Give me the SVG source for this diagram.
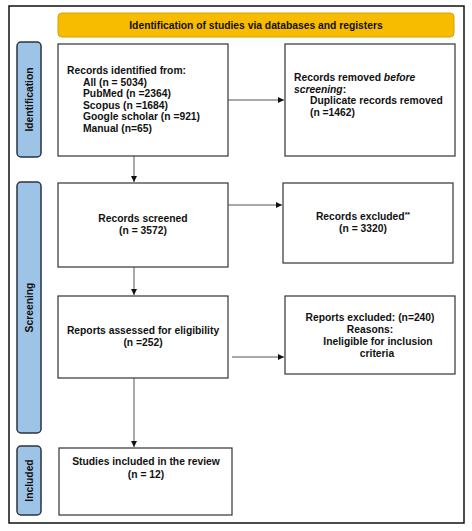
<svg xmlns="http://www.w3.org/2000/svg" width="472" height="531" viewBox="0 0 472 531">
<style>
text{font-family:"Liberation Sans",Arial,sans-serif;font-size:10.3px;font-weight:bold;fill:#111}
.box{fill:#fff;stroke:#333;stroke-width:1.2}
.side{fill:#9DC3E6;stroke:#2b3440;stroke-width:1.5}
.c{text-anchor:middle}
.conn{stroke:#555;stroke-width:1;fill:none}
</style>
<defs>
<marker id="ah" viewBox="0 0 10 10" refX="10" refY="5" markerWidth="6" markerHeight="6" orient="auto" markerUnits="userSpaceOnUse">
<path d="M0,0 L10,5 L0,10 z" fill="#111"/>
</marker>
</defs>
<rect x="0" y="0" width="472" height="531" fill="#fff"/>
<rect x="9" y="6" width="455" height="517" fill="#fff" stroke="#111" stroke-width="1.5"/>
<g id="header">
<rect x="58" y="13" width="396" height="24" rx="4" fill="#F7BB00" stroke="#D9A300" stroke-width="1"/>
<text class="c" x="256" y="29">Identification of studies via databases and registers</text>
</g>
<g id="side-identification">
<rect class="side" x="17" y="42" width="24" height="115" rx="4"/>
<text class="c" transform="translate(32.5,99.5) rotate(-90)">Identification</text>
</g>
<g id="side-screening">
<rect class="side" x="17" y="182" width="24" height="251" rx="4"/>
<text class="c" transform="translate(32.5,307.5) rotate(-90)">Screening</text>
</g>
<g id="side-included">
<rect class="side" x="17" y="446" width="24" height="69" rx="4"/>
<text class="c" transform="translate(32.5,480.5) rotate(-90)">Included</text>
</g>
<g id="identified">
<rect class="box" x="58" y="44" width="170" height="112"/>
<text x="67" y="74">Records identified from:</text>
<text x="83" y="85.5">All (n = 5034)</text>
<text x="83" y="97">PubMed (n =2364)</text>
<text x="83" y="108.5">Scopus (n =1684)</text>
<text x="83" y="120">Google scholar (n =921)</text>
<text x="83" y="131.5">Manual (n=65)</text>
</g>
<g id="removed">
<rect class="box" x="285" y="44" width="170" height="112"/>
<text x="294" y="81">Records removed <tspan font-style="italic">before</tspan></text>
<text x="294" y="92.5"><tspan font-style="italic">screening</tspan>:</text>
<text x="310" y="104">Duplicate records removed</text>
<text x="310" y="115.5">(n =1462)</text>
</g>
<g id="screened">
<rect class="box" x="58" y="183" width="170" height="84"/>
<text class="c" x="143" y="222">Records screened</text>
<text class="c" x="143" y="234">(n = 3572)</text>
</g>
<g id="excluded">
<rect class="box" x="283" y="183" width="170" height="80"/>
<text class="c" x="363" y="220">Records excluded<tspan font-size="7" dy="-3">**</tspan></text>
<text class="c" x="363" y="232">(n = 3320)</text>
</g>
<g id="assessed">
<rect class="box" x="58" y="296" width="170" height="82"/>
<text class="c" x="143" y="334">Reports assessed for eligibility</text>
<text class="c" x="143" y="346">(n =252)</text>
</g>
<g id="reports-excluded">
<rect class="box" x="285" y="296" width="170" height="78"/>
<text class="c" x="370" y="321">Reports excluded: (n=240)</text>
<text class="c" x="370" y="333">Reasons:</text>
<text class="c" x="378" y="345">Ineligible for inclusion</text>
<text class="c" x="377" y="357">criteria</text>
</g>
<g id="included">
<rect class="box" x="59" y="448" width="173" height="67"/>
<text class="c" x="146" y="465">Studies included in the review</text>
<text class="c" x="146" y="478">(n = 12)</text>
</g>
<g id="connectors">
<path class="conn" d="M228,100 H284" marker-end="url(#ah)"/>
<path class="conn" d="M134,156 V182" marker-end="url(#ah)"/>
<path class="conn" d="M228,205 H282" marker-end="url(#ah)"/>
<path class="conn" d="M134,267 V295" marker-end="url(#ah)"/>
<path class="conn" d="M232,357 H284" marker-end="url(#ah)"/>
<path class="conn" d="M134,378 V447" marker-end="url(#ah)"/>
</g>
</svg>
